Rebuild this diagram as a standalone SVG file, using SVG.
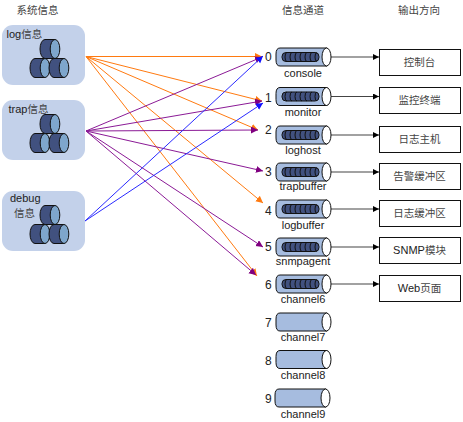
<svg xmlns="http://www.w3.org/2000/svg" xmlns:xlink="http://www.w3.org/1999/xlink" width="463" height="422" viewBox="0 0 463 422">
<style>
text{font-family:"Liberation Sans","Noto Sans CJK SC",sans-serif;font-size:11px;fill:#222}
.cjk{font-family:"Noto Sans CJK SC",sans-serif;fill:#444}
.h{font-size:10.500px;text-anchor:middle}
.m{text-anchor:middle}
.n{font-size:12px}
.t{font-size:10.500px}
.panel{fill:#c3d1ea}
.c1{fill:#41517f;stroke:#111;stroke-width:1}
.c2{fill:#7ea6cc;stroke:#111;stroke-width:1}
.pipe{fill:#a6bcdf;stroke:#111;stroke-width:1}
.cap{fill:#fff;stroke:#111;stroke-width:1}
.inner{fill:#41517f;stroke:#111;stroke-width:1}
.box{fill:#fff;stroke:#111;stroke-width:1}
.o{stroke:#ff7a10;stroke-width:1;fill:none;marker-end:url(#mo)}
.p{stroke:#8b1a96;stroke-width:1;fill:none;marker-end:url(#mp)}
.b{stroke:#2a2aff;stroke-width:1;fill:none;marker-end:url(#mb)}
.k{stroke:#444;stroke-width:1.200;fill:none;marker-end:url(#mk)}
</style>
<defs>
<marker id="mo" markerUnits="userSpaceOnUse" markerWidth="8" markerHeight="8" refX="7" refY="3.500" orient="auto"><path d="M0 0L7 3.500L0 7z" fill="#ff7a10"/></marker>
<marker id="mp" markerUnits="userSpaceOnUse" markerWidth="8" markerHeight="8" refX="7" refY="3.500" orient="auto"><path d="M0 0L7 3.500L0 7z" fill="#800080"/></marker>
<marker id="mb" markerUnits="userSpaceOnUse" markerWidth="8" markerHeight="8" refX="7" refY="3.500" orient="auto"><path d="M0 0L7 3.500L0 7z" fill="#1010ff"/></marker>
<marker id="mk" markerUnits="userSpaceOnUse" markerWidth="7" markerHeight="7" refX="6" refY="3" orient="auto"><path d="M0 0L6 3L0 6z" fill="#000"/></marker>
<g id="drum"><path class="c1" d="M0 -9.500H10V9.500H0A5 9.500 0 0 1 0 -9.500Z"/><ellipse class="c2" cx="10" cy="0" rx="4.800" ry="9.500"/></g>
<g id="stacks"><use xlink:href="#drum" x="45" y="49"/><use xlink:href="#drum" x="35" y="68"/><use xlink:href="#drum" x="54" y="68"/></g>
<g id="pipe"><path class="pipe" d="M4 -9H51V9H4Q0 9 0 3V-3Q0 -9 4 -9Z"/><ellipse class="cap" cx="50.500" cy="0" rx="4.500" ry="9"/></g>
<g id="coil"><rect class="inner" x="6" y="-4.500" width="37" height="9" rx="4"/><path fill="none" stroke="#111" d="M11 -4.500a2 4.500 0 0 0 0 9M16 -4.500a2 4.500 0 0 0 0 9M21 -4.500a2 4.500 0 0 0 0 9M26 -4.500a2 4.500 0 0 0 0 9M31 -4.500a2 4.500 0 0 0 0 9M36 -4.500a2 4.500 0 0 0 0 9M41 -4.500a2 4.500 0 0 0 0 9"/></g>
</defs>

<g id="headers">
<text class="cjk h" x="37.500" y="14">系统信息</text>
<text class="cjk h" x="303" y="14">信息通道</text>
<text class="cjk h" x="419" y="14">输出方向</text>
</g>

<g id="log">
<rect class="panel" x="2" y="25" width="83" height="60" rx="11"/>
<text x="6.500" y="38">log<tspan class="cjk t">信息</tspan></text>
<use xlink:href="#stacks" x="0" y="0"/>
</g>
<g id="trap">
<rect class="panel" x="2" y="100" width="83" height="60" rx="11"/>
<text x="8.500" y="113">trap<tspan class="cjk t">信息</tspan></text>
<use xlink:href="#stacks" x="0" y="75"/>
</g>
<g id="debug">
<rect class="panel" x="2" y="191" width="83" height="60" rx="11"/>
<text x="10" y="202">debug</text>
<text class="cjk t" x="14" y="216.500">信息</text>
<use xlink:href="#stacks" x="0" y="166"/>
</g>

<g id="connectors">
<path class="o" d="M86 56.500L262 56.500"/>
<path class="o" d="M86 56.500L262 101"/>
<path class="o" d="M86 56.500L258 130"/>
<path class="o" d="M86 56.500L263 203"/>
<path class="o" d="M86 56.500L257 276"/>
<path class="p" d="M86 131L262 57"/>
<path class="p" d="M86 131L262 101"/>
<path class="p" d="M86 131L258 130"/>
<path class="p" d="M86 131L263 171"/>
<path class="p" d="M86 131L263 247"/>
<path class="p" d="M86 131L256 275"/>
<path class="b" d="M85 221L263 56"/>
<path class="b" d="M85 221L263 103"/>
<path class="k" d="M331 57H379"/>
<path class="k" d="M331 96.500H379"/>
<path class="k" d="M331 135H379"/>
<path class="k" d="M331 172H379"/>
<path class="k" d="M331 209H379"/>
<path class="k" d="M331 247H379"/>
<path class="k" d="M331 284H379"/>
</g>

<g id="ch0"><text class="n" x="265" y="61">0</text><g transform="translate(276 57)"><use xlink:href="#pipe"/><use xlink:href="#coil"/></g><text class="m" x="303" y="77">console</text></g>
<g id="ch1"><text class="n" x="265" y="102">1</text><g transform="translate(276 96.500)"><use xlink:href="#pipe"/><use xlink:href="#coil"/></g><text class="m" x="303" y="116">monitor</text></g>
<g id="ch2"><text class="n" x="265" y="134">2</text><g transform="translate(276 135)"><use xlink:href="#pipe"/><use xlink:href="#coil"/></g><text class="m" x="303" y="154">loghost</text></g>
<g id="ch3"><text class="n" x="265" y="176">3</text><g transform="translate(276 172)"><use xlink:href="#pipe"/><use xlink:href="#coil"/></g><text class="m" x="303" y="190">trapbuffer</text></g>
<g id="ch4"><text class="n" x="265" y="215">4</text><g transform="translate(276 209)"><use xlink:href="#pipe"/><use xlink:href="#coil"/></g><text class="m" x="303" y="229">logbuffer</text></g>
<g id="ch5"><text class="n" x="265" y="251">5</text><g transform="translate(276 247)"><use xlink:href="#pipe"/><use xlink:href="#coil"/></g><text class="m" x="303" y="265">snmpagent</text></g>
<g id="ch6"><text class="n" x="265" y="289">6</text><g transform="translate(276 284)"><use xlink:href="#pipe"/><use xlink:href="#coil"/></g><text class="m" x="303" y="303">channel6</text></g>
<g id="ch7"><text class="n" x="265" y="327">7</text><g transform="translate(276 322)"><use xlink:href="#pipe"/></g><text class="m" x="303" y="341">channel7</text></g>
<g id="ch8"><text class="n" x="265" y="365">8</text><g transform="translate(276 359.500)"><use xlink:href="#pipe"/></g><text class="m" x="303" y="379">channel8</text></g>
<g id="ch9"><text class="n" x="265" y="403">9</text><g transform="translate(275 398)"><use xlink:href="#pipe"/></g><text class="m" x="303" y="418">channel9</text></g>

<g id="out0"><rect class="box" x="379.500" y="49.500" width="81" height="26"/><text class="cjk m t" x="419.500" y="66">控制台</text></g>
<g id="out1"><rect class="box" x="379.500" y="87.500" width="81" height="26"/><text class="cjk m t" x="419.500" y="104">监控终端</text></g>
<g id="out2"><rect class="box" x="379.500" y="126.500" width="81" height="26"/><text class="cjk m t" x="419.500" y="143">日志主机</text></g>
<g id="out3"><rect class="box" x="379.500" y="163.500" width="81" height="26"/><text class="cjk m t" x="419.500" y="180">告警缓冲区</text></g>
<g id="out4"><rect class="box" x="379.500" y="200.500" width="81" height="26"/><text class="cjk m t" x="419.500" y="217">日志缓冲区</text></g>
<g id="out5"><rect class="box" x="379.500" y="237.500" width="81" height="26"/><text class="m" x="419.500" y="254">SNMP<tspan class="cjk t">模块</tspan></text></g>
<g id="out6"><rect class="box" x="379.500" y="275.500" width="81" height="26"/><text class="m" x="419.500" y="292">Web<tspan class="cjk t">页面</tspan></text></g>
</svg>
